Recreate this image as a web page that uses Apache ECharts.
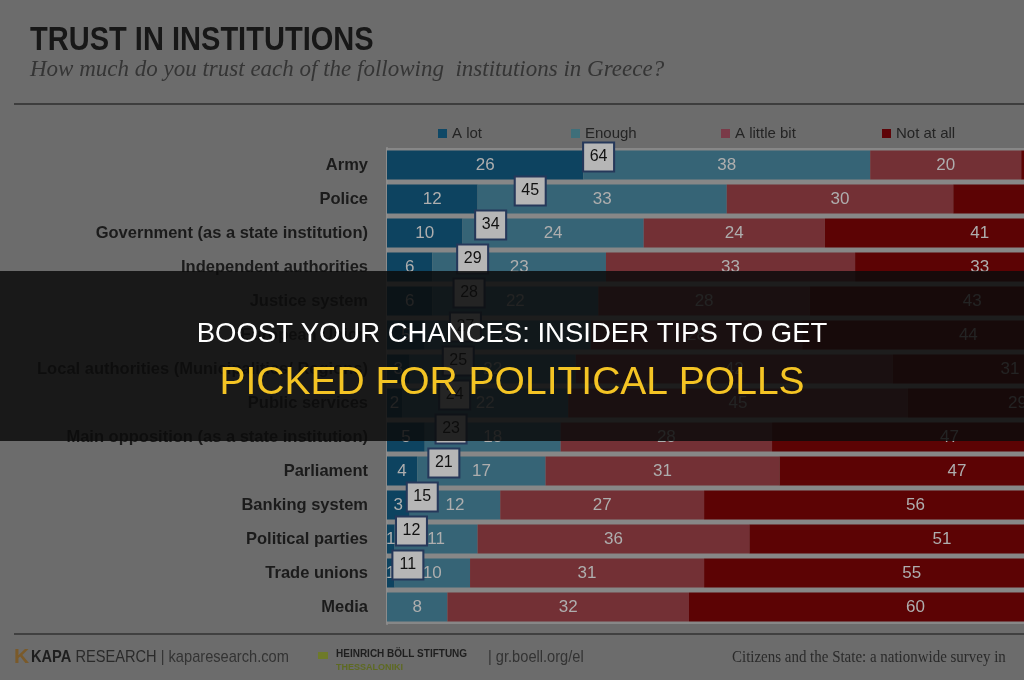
<!DOCTYPE html>
<html><head><meta charset="utf-8">
<script src="https://cdn.jsdelivr.net/npm/echarts@6/dist/echarts.min.js"></script>
<style>html,body{margin:0;padding:0;background:#6c6c6c;overflow:hidden;width:1024px;height:680px}#c{width:1160px;height:680px}</style>
</head><body><div id="c"></div>
<script>
const categories = ['Army','Police','Government (as a state institution)','Independent authorities','Justice system','European Union','Local authorities (Municipalities/ Regions)','Public services','Main opposition (as a state institution)','Parliament','Banking system','Political parties','Trade unions','Media'];
const seriesNames = ['A lot','Enough','A little bit','Not at all'];
const aLot = [26,12,10,6,6,5,3,2,5,4,3,1,1,0];
const enough = [38,33,24,23,22,22,22,22,18,17,12,11,10,8];
const littleBit = [20,30,24,33,28,28,42,45,28,31,27,36,31,32];
const notAtAll = [15,23,41,33,43,44,31,29,47,47,56,51,55,60];
const totals = [64,45,34,29,28,27,25,24,23,21,15,12,11,null];

const colors = ['#0d4360','#366476','#733035','#5c0304'];
const legendColors = ['#0f4866','#3f6f7a','#7a3a48','#5e0408'];
const sans = '"Liberation Sans", Arial, sans-serif';
const values = [aLot, enough, littleBit, notAtAll];

const chart = echarts.init(document.getElementById('c'), null, {renderer:'canvas'});

const barSeries = seriesNames.map((n,i)=>({
  name:n, type:'bar', stack:'t', barWidth:29, xAxisIndex:0,
  data: values[i],
  itemStyle:{color:colors[i]},
  label:{show:true, position:'inside', color:'#aeaeae', fontFamily:sans, fontSize:17,
    formatter:p=>p.value>0?String(p.value):''},
  emphasis:{disabled:true}
}));

const legendX = [433,566,716,877];
const legends = seriesNames.map((n,i)=>({
  data:[{name:n, itemStyle:{color:legendColors[i]}}], left:legendX[i], top:121, itemWidth:9, itemHeight:9, itemGap:5,
  textStyle:{color:'#242424', fontFamily:sans, fontSize:15}, icon:'rect', selectedMode:false
}));

chart.setOption({
  animation:false,
  backgroundColor:'#6c6c6c',
  legend: legends,
  grid:{left:387, right:18, top:148, bottom:56, show:true, backgroundColor:'#878787', borderWidth:0},
  xAxis:[
    {type:'value', min:0, max:100, show:false},
    {type:'value', min:5.2, max:215, show:false, position:'top'}
  ],
  yAxis:{type:'category', data:categories, inverse:true,
    axisLine:{show:true, lineStyle:{color:'#8c8c8c', width:2}}, axisTick:{show:false},
    axisLabel:{color:'#1b1b1b', fontFamily:sans, fontWeight:'bold', fontSize:16.5, margin:19}},
  series: barSeries.concat([{
    type:'scatter', xAxisIndex:1, symbol:'rect', symbolSize:[31,29], symbolOffset:[0,-8],
    data: totals.map((t,i)=>t==null?null:[t, categories[i]]).filter(d=>d),
    itemStyle:{color:'#b6b6b6', borderColor:'#26385a', borderWidth:2, opacity:1},
    label:{show:true, position:'inside', color:'#111', fontSize:16, fontFamily:sans,
      formatter:p=>String(p.value[0])},
    z:10, emphasis:{disabled:true}
  }]),
  graphic:[
    {type:'text', x:30, y:24, scaleX:0.88, style:{text:'TRUST IN INSTITUTIONS', fill:'#171717', font:'bold 33px '+sans}},
    {type:'text', left:30, top:58, style:{text:'How much do you trust each of the following  institutions in Greece?', fill:'#353535', font:'italic 23px "Liberation Serif", serif'}},
    {type:'rect', shape:{x:14, y:103, width:1146, height:2}, style:{fill:'#3d3d3d'}},
    {type:'rect', shape:{x:14, y:633, width:1146, height:2}, style:{fill:'#404040'}},
    {type:'text', left:14, top:647, style:{text:'K', fill:'#7a5a2a', font:'bold 21px '+sans}},
    {type:'text', x:31, y:649, scaleX:0.86, style:{rich:{a:{fill:'#1e1e1e', font:'bold 17px '+sans}, b:{fill:'#2a2a2a', font:'17px '+sans}, c:{fill:'#333', font:'17px '+sans}}, text:'{a|KAPA }{b|RESEARCH}{c| | kaparesearch.com}'}},
    {type:'rect', shape:{x:318, y:652, width:10, height:7}, style:{fill:'#6e7a2a'}},
    {type:'text', left:336, top:649, style:{text:'HEINRICH BÖLL STIFTUNG', fill:'#1e1e1e', font:'bold 10px '+sans}},
    {type:'text', left:336, top:663, style:{text:'THESSALONIKI', fill:'#5e6a22', font:'bold 9px '+sans}},
    {type:'text', x:488, y:649, scaleX:0.86, style:{text:'| gr.boell.org/el', fill:'#333', font:'17px '+sans}},
    {type:'text', x:732, y:649, scaleX:0.88, style:{text:'Citizens and the State: a nationwide survey in', fill:'#2a2a2a', font:'17px "Liberation Serif", serif'}},
    {type:'rect', z:100, shape:{x:0, y:271, width:1160, height:170}, style:{fill:'rgba(12,12,12,0.86)'}},
    {type:'text', z:101, x:512, y:334, style:{text:'BOOST YOUR CHANCES: INSIDER TIPS TO GET', fill:'#ffffff', font:'27.5px "Liberation Sans", Arial, sans-serif', textAlign:'center', textVerticalAlign:'middle'}},
    {type:'text', z:101, x:512, y:383, style:{text:'PICKED FOR POLITICAL POLLS', fill:'#f4c424', font:'39px "Liberation Sans", Arial, sans-serif', textAlign:'center', textVerticalAlign:'middle'}}
  ]
});
</script></body></html>
